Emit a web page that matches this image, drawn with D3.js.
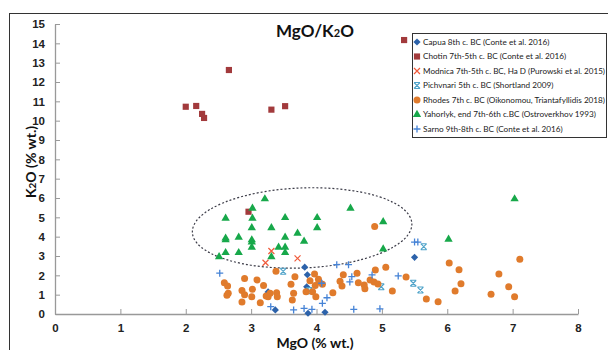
<!DOCTYPE html>
<html>
<head>
<meta charset="utf-8">
<script src="https://cdn.jsdelivr.net/npm/d3@7"></script>
<style>
	body { margin: 0; background: #fff; }
	svg { display: block; font-family: Lato, "Open Sans", sans-serif; }
</style>
</head>
<body>
<div id="container"></div>
<script>
const width = 608;
const height = 350;

// Series names (legend order)
const seriesNames = [
	"Capua 8th c. BC (Conte et al. 2016)",
	"Chotin 7th-5th c. BC (Conte et al. 2016)",
	"Modnica 7th-5th c. BC, Ha D (Purowski et al. 2015)",
	"Pichvnari 5th c. BC (Shortland 2009)",
	"Rhodes 7th c. BC (Oikonomou, Triantafyllidis 2018)",
	"Yahorlyk, end 7th-6th c.BC (Ostroverkhov 1993)",
	"Sarno 9th-8th c. BC (Conte et al. 2016)"
];

// [MgO, K2O] in % wt.
const capua = [[3.82, 2.42], [3.86, 2.03], [3.85, 1.41], [4.13, 0.09], [3.87, 0.04], [3.37, 0.21], [5.50, 2.93], [3.26, 1.14]];
const chotin = [[2.00, 10.72], [2.16, 10.76], [2.25, 10.35], [2.28, 10.14], [2.66, 12.62], [3.31, 10.57], [3.52, 10.75], [5.34, 14.17], [2.96, 5.29]];
const modnica = [[3.31, 3.26], [3.22, 2.65], [3.71, 2.88]];
const pichvnari = [[3.49, 2.21], [3.89, 1.21], [4.99, 1.41], [5.48, 1.59], [5.59, 1.24], [5.64, 3.48]];
const rhodes = [
	[3.38, 2.21], [2.59, 1.62], [2.64, 1.45], [2.65, 1.07], [2.63, 0.97], [2.90, 1.83], [3.09, 1.76], [3.19, 1.48],
	[2.86, 1.21], [3.02, 1.28], [2.90, 1.00], [3.01, 0.89], [2.86, 0.62], [3.26, 0.89], [3.23, 0.93], [3.29, 1.07],
	[3.39, 1.10], [3.40, 0.89], [3.14, 0.58], [3.67, 1.93], [3.61, 1.54], [3.65, 1.07], [3.63, 0.72], [3.97, 2.07],
	[3.90, 1.72], [4.03, 1.80], [4.04, 1.66], [3.98, 1.48], [4.09, 1.54], [3.84, 1.15], [3.94, 1.15], [3.99, 0.89],
	[4.25, 1.10], [4.41, 2.03], [4.36, 1.69], [4.39, 1.45], [4.62, 2.11], [4.64, 1.62], [5.06, 2.42], [4.90, 2.28],
	[4.73, 1.50], [4.74, 1.31], [4.82, 1.76], [4.88, 1.66], [4.94, 1.55], [5.16, 1.19], [5.37, 1.91], [5.68, 0.78],
	[6.03, 2.64], [6.18, 2.29], [6.21, 1.57], [6.12, 1.19], [5.86, 0.64], [6.79, 2.07], [7.11, 2.83], [6.94, 1.41],
	[6.67, 1.02], [7.03, 0.89], [4.89, 4.52]
];
const yahorlyk = [
	[3.21, 5.95], [3.02, 5.47], [2.61, 4.95], [3.02, 4.95], [3.52, 4.98], [4.01, 4.98], [4.52, 5.47], [3.01, 4.46],
	[3.31, 4.46], [4.01, 4.46], [3.71, 4.17], [2.61, 3.92], [2.61, 3.83], [2.81, 3.97], [3.01, 3.83], [3.01, 3.72],
	[3.52, 3.97], [3.81, 3.76], [3.01, 3.45], [3.42, 3.45], [3.52, 3.45], [2.61, 3.17], [2.81, 3.17], [3.52, 3.17],
	[3.31, 2.96], [2.51, 2.96], [5.02, 4.77], [5.02, 3.36], [6.02, 3.86], [7.03, 5.95]
];
const sarno = [
	[2.52, 2.11], [3.30, 0.38], [3.65, 0.21], [3.81, 0.29], [3.93, 0.24], [4.09, 0.55], [4.16, 0.84], [4.08, 1.59],
	[4.31, 2.55], [4.49, 2.55], [4.54, 1.93], [4.51, 1.66], [4.57, 0.24], [5.50, 3.72], [5.55, 3.72], [4.85, 2.02],
	[5.25, 1.97], [4.97, 0.27]
];

// Axis ticks
const xTicks = [0, 1, 2, 3, 4, 5, 6, 7, 8];
const yTicks = d3.range(0, 16);

// Dashed ellipse around the Yahorlyk group: centre, radii (data units)
const ellipseCentre = [3.78, 4.45];
const ellipseRadii = [1.68, 2.07];

const x = d3.scaleLinear().domain([0, 8]).range([55, 578]);
const y = d3.scaleLinear().domain([0, 15]).range([314, 24]);

let svg = d3.select("#container")
	.append("svg")
	.attr("width", width)
	.attr("height", height);

// outer chart frame (cut off at right and bottom)
svg.append("rect")
	.attr("x", 9.5).attr("y", 13.5)
	.attr("width", 620).attr("height", 360)
	.attr("fill", "none")
	.attr("stroke", "#333")
	.attr("stroke-width", 1);

// axes
let xAxis = svg.append("g")
	.attr("transform", "translate(0," + y(0) + ")")
	.call(d3.axisBottom(x).tickValues(xTicks).tickSizeInner(-5).tickSizeOuter(0).tickPadding(10));
let yAxis = svg.append("g")
	.attr("transform", "translate(" + x(0) + ",0)")
	.call(d3.axisLeft(y).tickValues(yTicks).tickSizeInner(-5).tickSizeOuter(0).tickPadding(10));

[xAxis, yAxis].forEach(a => {
	a.select(".domain").attr("stroke", "#999").attr("stroke-width", 1.3);
	a.selectAll(".tick line").attr("stroke", "#999");
	a.selectAll(".tick text").attr("fill", "#222").attr("font-size", 11.5).attr("font-weight", 600);
});

// ellipse
svg.append("ellipse")
	.attr("cx", x(ellipseCentre[0]))
	.attr("cy", y(ellipseCentre[1]))
	.attr("rx", x(ellipseRadii[0]) - x(0))
	.attr("ry", y(0) - y(ellipseRadii[1]))
	.attr("transform", "rotate(-2.3," + x(ellipseCentre[0]) + "," + y(ellipseCentre[1]) + ")")
	.attr("fill", "none")
	.attr("stroke", "#3c3c48")
	.attr("stroke-width", 1.2)
	.attr("stroke-dasharray", "2,2");

// marker drawing helpers
const markers = [
	{ data: capua, kind: "diamond", color: "#2C62AA" },
	{ data: chotin, kind: "square", color: "#A23A3C" },
	{ data: modnica, kind: "x", color: "#F05A3A" },
	{ data: pichvnari, kind: "star", color: "#4FA3C9" },
	{ data: rhodes, kind: "circle", color: "#E07B2C" },
	{ data: yahorlyk, kind: "triangle", color: "#17A84A" },
	{ data: sarno, kind: "plus", color: "#4683D6" }
];

function drawMarker(g, kind, color) {
	if (kind === "diamond") {
		g.append("path").attr("d", "M0,-3.6L3.6,0L0,3.6L-3.6,0Z").attr("fill", color);
	} else if (kind === "square") {
		g.append("path").attr("d", d3.symbol(d3.symbolSquare, 38)()).attr("fill", color);
	} else if (kind === "circle") {
		g.append("circle").attr("r", 3.5).attr("fill", color);
	} else if (kind === "triangle") {
		g.append("path").attr("d", d3.symbol(d3.symbolTriangle, 30)()).attr("fill", color);
	} else if (kind === "plus") {
		g.append("path").attr("d", "M-3.5,0H3.5M0,-3.5V3.5")
			.attr("stroke", color).attr("stroke-width", 1.3).attr("fill", "none");
	} else if (kind === "x") {
		g.append("path").attr("d", "M-3,-3L3,3M-3,3L3,-3")
			.attr("stroke", color).attr("stroke-width", 1.2).attr("fill", "none");
	} else if (kind === "star") {
		g.append("path").attr("d", "M-3,-3L3,3M-3,3L3,-3M-3,-3H3M-3,3H3")
			.attr("stroke", color).attr("stroke-width", 1.1).attr("fill", "none");
	}
}

// draw series
markers.forEach(m => {
	svg.append("g")
		.selectAll("g")
		.data(m.data)
		.enter()
		.append("g")
		.attr("transform", d => "translate(" + x(d[0]) + "," + y(d[1]) + ")")
		.each(function() { drawMarker(d3.select(this), m.kind, m.color); });
});

// title
let title = svg.append("text")
	.attr("x", 315).attr("y", 37)
	.attr("text-anchor", "middle")
	.attr("font-size", 17).attr("font-weight", 700)
	.attr("fill", "#111");
title.append("tspan").text("MgO/K");
title.append("tspan").attr("font-size", 11).text("2");
title.append("tspan").text("O");

// axis titles
let yLabel = svg.append("text")
	.attr("transform", "translate(36,162)rotate(-90)")
	.attr("text-anchor", "middle")
	.attr("font-size", 14).attr("font-weight", 700)
	.attr("fill", "#111");
yLabel.append("tspan").text("K");
yLabel.append("tspan").attr("font-size", 10).text("2");
yLabel.append("tspan").text("O (% wt.)");

svg.append("text")
	.attr("x", 315).attr("y", 348)
	.attr("text-anchor", "middle")
	.attr("font-size", 14).attr("font-weight", 700)
	.attr("fill", "#111")
	.text("MgO (% wt.)");

// legend
let legend = svg.append("g");
legend.append("rect")
	.attr("x", 412.5).attr("y", 33.5)
	.attr("width", 194).attr("height", 104)
	.attr("fill", "#fff")
	.attr("stroke", "#333");

let items = legend.selectAll("g.item")
	.data(seriesNames)
	.enter()
	.append("g")
	.attr("class", "item")
	.attr("transform", (d, i) => "translate(417," + (42 + i * 14.5) + ")");

items.each(function(d, i) { drawMarker(d3.select(this), markers[i].kind, markers[i].color); });
items.append("text")
	.attr("x", 6).attr("dy", "0.35em")
	.attr("font-size", 8.2)
	.attr("fill", "#222")
	.text(d => d)
	.each(function() {
		// keep long entries inside the box
		if (this.getComputedTextLength() > 182) {
			d3.select(this).attr("textLength", 182).attr("lengthAdjust", "spacingAndGlyphs");
		}
	});
</script>
</body>
</html>
